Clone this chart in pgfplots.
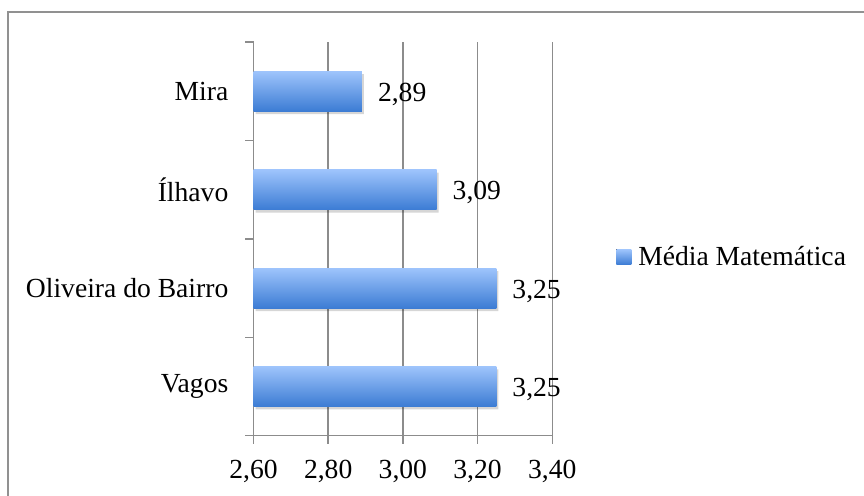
\documentclass[border=0pt]{standalone}
\usepackage{pgfplots}
\pgfplotsset{compat=1.18}
\usepackage{fontspec}
\setmainfont{Liberation Serif}

\definecolor{barTop}{RGB}{158,196,252}
\definecolor{barBottom}{RGB}{60,124,212}
\definecolor{gridGray}{RGB}{140,140,140}
\definecolor{frameGray}{RGB}{145,145,145}

\newcommand{\chartfont}{\fontsize{27.6bp}{32bp}\selectfont}

\begin{document}
\begin{tikzpicture}
\path[use as bounding box] (0,0) rectangle (864bp,496bp);
% chart frame (left and top edges visible)
\draw[frameGray, line width=2bp] (8bp,-5bp) -- (8bp,484bp) -- (870bp,484bp);

\begin{axis}[
  at={(253.5bp,60.3bp)}, anchor=south west,
  scale only axis,
  width=298.8bp, height=393.7bp,
  xbar, bar width=40bp, bar shift=0pt,
  xmin=2.6, xmax=3.4,
  ymin=-0.5, ymax=3.5,
  axis x line*=bottom, axis y line*=left,
  axis line style={gridGray, line width=1.5bp, -},
  xtick={2.6,2.8,3.0,3.2,3.4},
  xmajorgrids, grid style={gridGray, line width=1.5bp},
  tick align=outside,
  major tick length=8bp, minor tick length=8bp,
  tick style={gridGray, line width=1.5bp},
  ytick={0,1,2,3},
  yticklabels={Vagos,Oliveira do Bairro,Ílhavo,Mira},
  minor ytick={-0.5,0.5,1.5,2.5,3.5},
  major y tick style={draw=none},
  /pgf/number format/assume math mode=true,
  /pgf/number format/.cd, use comma, fixed, fixed zerofill, precision=2, 1000 sep={},
  /pgfplots/.cd,
  ticklabel style={font=\chartfont, text=black},
  xticklabel style={inner sep=0pt, yshift=-16bp},
  yticklabel style={inner sep=0pt, xshift=-17bp},
  legend style={at={(1.2135,0.454)}, anchor=west, draw=none, fill=none, inner sep=0pt,
    font=\chartfont, legend cell align=left, nodes={inner sep=0pt}},
  legend image code/.code={
    \fill[top color=barTop, bottom color=barBottom] (0bp,-7.5bp) rectangle (15bp,7.5bp);
    \path (22bp,0bp);},
  clip mode=individual,
  bar style/.style={draw=none, top color=barTop, bottom color=barBottom,
    nodes near coords,
    nodes near coords style={font=\chartfont, text=black, anchor=west, inner sep=0pt,
      xshift=16bp, yshift=-3bp,
      /pgf/number format/.cd, use comma, fixed, fixed zerofill, precision=2,
      assume math mode=true}},
]
% soft shadow under the bars
\addplot[forget plot, draw=none, fill=black, fill opacity=0.16, xshift=2bp, yshift=-3bp]
  coordinates {(3.25,0) (3.25,1) (3.09,2) (2.89,3)};
% one plot per bar so every bar gets its own vertical gradient
\addplot[bar style] coordinates {(3.25,0)};
\addlegendentry{Média Matemática}
\addplot[bar style, forget plot] coordinates {(3.25,1)};
\addplot[bar style, forget plot] coordinates {(3.09,2)};
\addplot[bar style, forget plot] coordinates {(2.89,3)};
\end{axis}
\end{tikzpicture}
\end{document}
